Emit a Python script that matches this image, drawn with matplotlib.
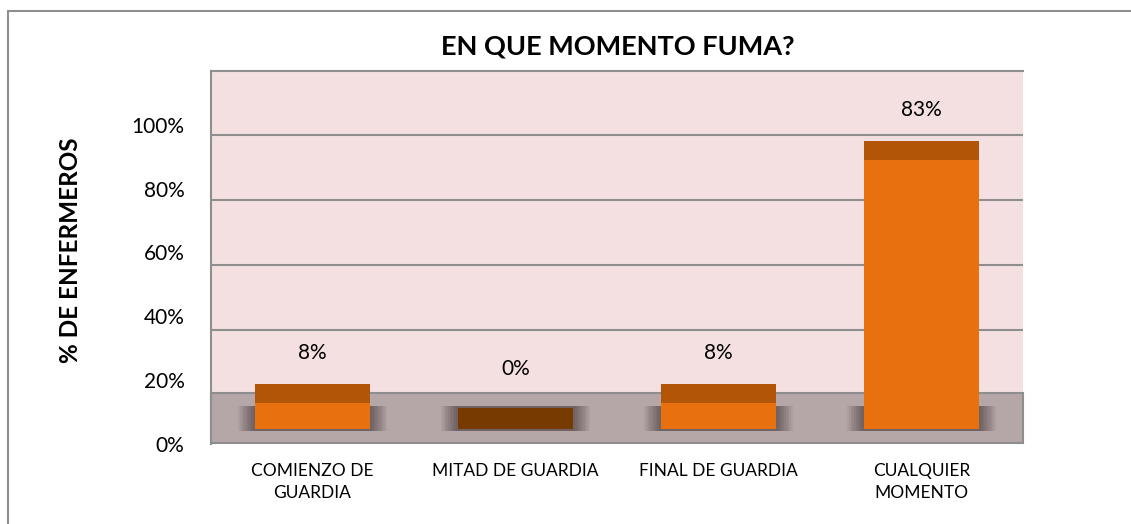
import numpy as np
import matplotlib
matplotlib.use("Agg")
import matplotlib.pyplot as plt
from matplotlib.patches import Rectangle

plt.rcParams['font.family'] = ['Lato', 'DejaVu Sans']

categorias = ["COMIENZO DE\nGUARDIA", "MITAD DE GUARDIA", "FINAL DE GUARDIA", "CUALQUIER\nMOMENTO"]
valores = [8, 0, 8, 83]            # altura de las barras (%)
etiquetas = ["8%", "0%", "8%", "83%"]
ticks_y = [0, 20, 40, 60, 80, 100]

# colores
pared = "#F4E0E0"
suelo = "#B5A7A7"
borde = "#8E8E8E"
frente = "#E8700F"
tapa = "#B35506"
tapa_cero = "#773A00"

W, H = 1131, 524
fig = plt.figure(figsize=(W / 100, H / 100), dpi=100)

# marco exterior del grafico
fig.patches.append(Rectangle((8 / W, -0.1), 1.2, 1.1 - 11 / H, transform=fig.transFigure,
                             fill=False, edgecolor=borde, lw=1.5))

ax = fig.add_axes([211 / W, 1 - 444 / H, (1023 - 211) / W, (444 - 71) / H])
ax.set_facecolor(pared)
ax.set_xlim(-0.5, 3.5)
ax.set_ylim(-4.3, 110.5)

# lineas de la pared del fondo
desfase_pared = -9.4
for t in ticks_y[2:]:
    ax.axhline(t + desfase_pared, color=borde, lw=1.5, zorder=1)

# suelo 3D
suelo_top = 11
ax.axhspan(-4.3, suelo_top, facecolor=suelo, edgecolor=borde, lw=1.5, zorder=2, clip_on=False)

x = np.arange(len(categorias))
ancho = 0.57
prof = 6

# sombras difusas
for k in range(10):
    ax.bar(x, 7.6, bottom=-0.6, width=ancho + 0.16 * (1 - k / 10), color="#3A2C2C",
           alpha=0.07, zorder=3, linewidth=0)

for xi, v in zip(x, valores):
    if v > 0:
        ax.bar(xi, v, width=ancho, color=frente, zorder=4, linewidth=0)
        ax.bar(xi, prof, bottom=v, width=ancho, color=tapa, zorder=4, linewidth=0)
    else:
        ax.bar(xi, prof + 0.5, bottom=0, width=ancho, color=tapa_cero, zorder=4, linewidth=0)

for xi, v, txt in zip(x, valores, etiquetas):
    dy = 22 if v > 0 else 29
    ax.annotate(txt, (xi, v + prof), xytext=(0, dy), textcoords="offset points",
                ha="center", va="center", fontsize=15, color="#000000")

ax.set_yticks([t * 0.985 - 4.6 for t in ticks_y])
ax.set_yticklabels([f"{t}%" for t in ticks_y], fontsize=15)
ax.set_xticks(x)
ax.set_xticklabels(categorias, fontsize=12.5, linespacing=1.45)
ax.tick_params(axis="y", length=0, pad=19)
ax.tick_params(axis="x", length=0, pad=13.5)

for s in ["top", "left"]:
    ax.spines[s].set_color(borde)
    ax.spines[s].set_linewidth(1.5)
for s in ["right", "bottom"]:
    ax.spines[s].set_visible(False)

fig.text(618 / W, 1 - 47 / H, "EN QUE MOMENTO FUMA?", ha="center", va="center",
         fontsize=19.5, fontweight="bold")
fig.text(70 / W, 1 - 250 / H, "% DE ENFERMEROS", ha="center", va="center",
         rotation=90, fontsize=17.5, fontweight="bold")

fig.savefig("out.png", dpi=100)
